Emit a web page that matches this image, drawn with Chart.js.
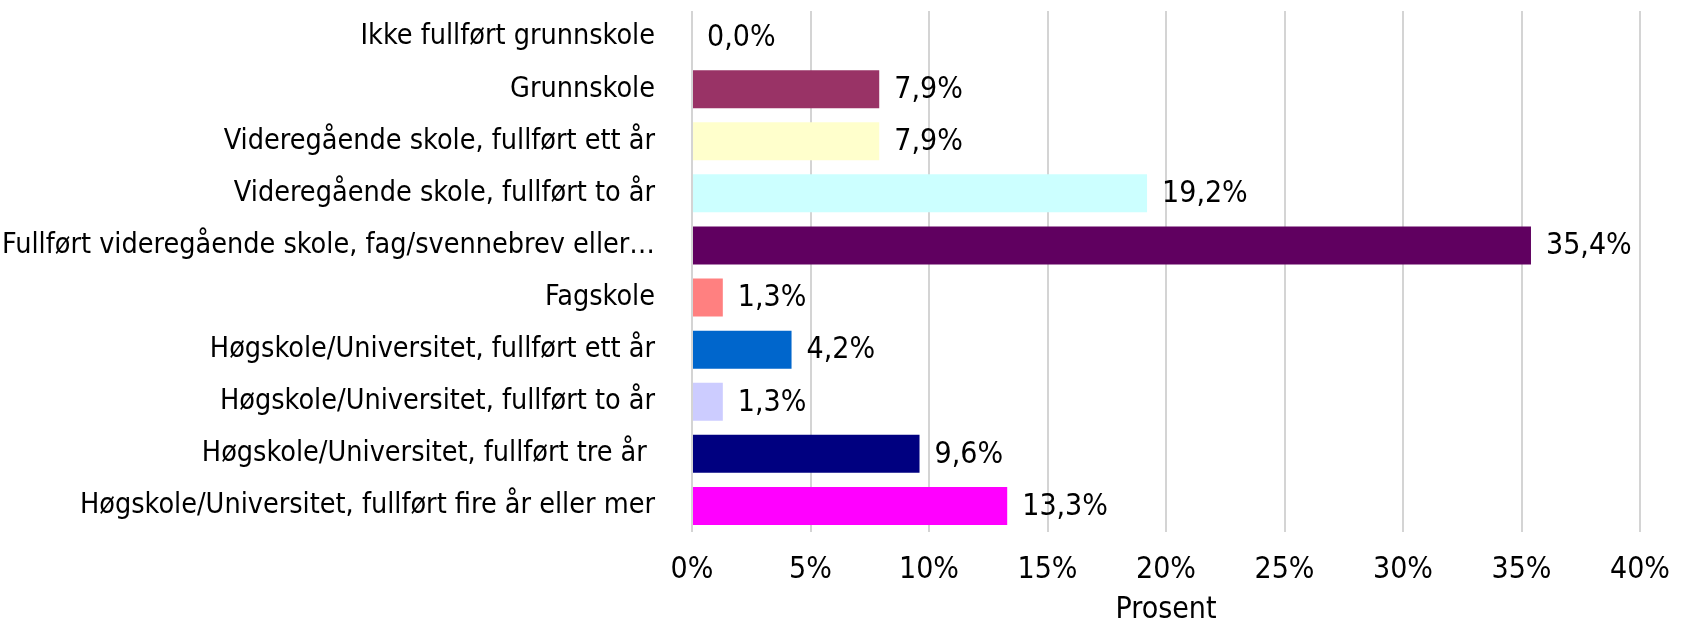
<!DOCTYPE html>
<html>
<head>
<meta charset="utf-8">
<script src="https://cdn.jsdelivr.net/npm/chart.js@4/dist/chart.umd.min.js"></script>
<style>
  html, body { margin: 0; padding: 0; background: #fff; }
  #wrap { width: 1683px; height: 625px; }
</style>
</head>
<body>
<div id="wrap"><canvas id="c" width="1683" height="625"></canvas></div>
<script>
// kategorier og verdier (prosent)
const categories = [
    'Ikke fullført grunnskole',
    'Grunnskole',
    'Videregående skole, fullført ett år',
    'Videregående skole, fullført to år',
    'Fullført videregående skole, fag/svennebrev eller…',
    'Fagskole',
    'Høgskole/Universitet, fullført ett år',
    'Høgskole/Universitet, fullført to år',
    'Høgskole/Universitet, fullført tre år ',
    'Høgskole/Universitet, fullført fire år eller mer'
];
const values = [0.0, 7.9, 7.9, 19.2, 35.4, 1.3, 4.2, 1.3, 9.6, 13.3];
const barColors = ['#993366', '#993366', '#FFFFCC', '#CCFFFF', '#600060', '#FF8080', '#0066CC', '#CCCCFF', '#000080', '#FF00FF'];
const xTicks = [0, 5, 10, 15, 20, 25, 30, 35, 40];

const FONT = '"Liberation Sans Narrow", "DejaVu Sans Condensed", sans-serif';
const SIZE = 30;

Chart.defaults.font.family = FONT;
Chart.defaults.font.size = SIZE;
Chart.defaults.color = '#000';

const fmt = v => v.toFixed(1).replace('.', ',') + '%';

const valueLabels = {
    id: 'valueLabels',
    afterDatasetsDraw(chart) {
        const ctx = chart.ctx;
        const meta = chart.getDatasetMeta(0);
        ctx.save();
        ctx.font = SIZE + 'px ' + FONT;
        ctx.fillStyle = '#000';
        ctx.textBaseline = 'middle';
        ctx.textAlign = 'left';
        meta.data.forEach((bar, i) => {
            ctx.fillText(fmt(values[i]), bar.x + 15, bar.y + 1);
        });
        ctx.restore();
    }
};

let chart = new Chart(document.getElementById('c'), {
    type: 'bar',
    data: {
        labels: categories,
        datasets: [{
            data: values,
            backgroundColor: barColors,
            borderWidth: 0,
            barPercentage: 0.73,
            categoryPercentage: 1
        }]
    },
    plugins: [valueLabels],
    options: {
        indexAxis: 'y',
        responsive: false,
        animation: false,
        layout: { padding: { top: 11, right: 43, bottom: 0, left: 0 } },
        plugins: {
            legend: { display: false },
            tooltip: { enabled: false }
        },
        scales: {
            x: {
                min: 0,
                max: 40,
                afterBuildTicks: s => { s.ticks = xTicks.map(v => ({ value: v })); },
                afterFit: s => {
                    s.height = 93;
                    s.paddingLeft = 0;
                    s.paddingRight = 0;
                },
                ticks: {
                    padding: 20,
                    maxRotation: 0,
                    font: { size: SIZE, lineHeight: 1.2 },
                    callback: v => v + '%'
                },
                grid: { color: '#d4d4d4', lineWidth: 2, drawTicks: false },
                border: { display: false },
                title: {
                    display: true,
                    text: 'Prosent',
                    font: { size: SIZE, lineHeight: 1.0 },
                    padding: { top: 0, bottom: 0 }
                }
            },
            y: {
                afterFit: s => {
                    s.width = 692;
                    s.paddingTop = 0;
                    s.paddingBottom = 0;
                },
                ticks: { padding: 29, autoSkip: false, font: { size: 28.5 } },
                grid: { display: false },
                border: { display: false }
            }
        }
    }
});
</script>
</body>
</html>
